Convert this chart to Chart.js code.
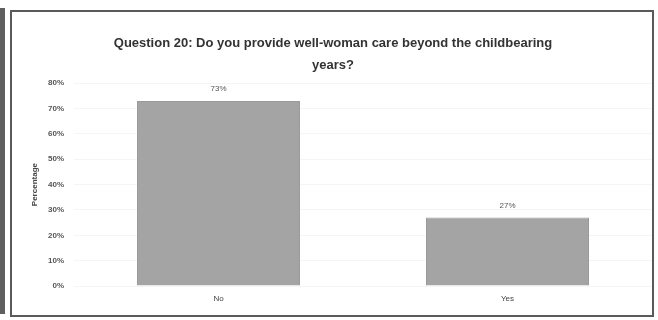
<!DOCTYPE html>
<html>
<head>
<meta charset="utf-8">
<script src="https://cdn.jsdelivr.net/npm/chart.js@4/dist/chart.umd.min.js"></script>
<style>
  html, body { margin: 0; padding: 0; background: #fff; }
  #wrap { position: relative; width: 658px; height: 320px; overflow: hidden; }
  #c { position: absolute; left: 0; top: 0; }
  #frame { position: absolute; left: 10px; top: 10px; width: 640px; height: 303px;
           border: 2px solid #5a5a5a; pointer-events: none; }
  #edge { position: absolute; left: 0; top: 8px; width: 5px; height: 306px;
          background: #5f5f5f; pointer-events: none; }
</style>
</head>
<body>
<div id="wrap">
  <canvas id="c" width="658" height="320"></canvas>
  <div id="edge"></div>
  <div id="frame"></div>
</div>
<script>
// Survey answers and their shares (percent)
const categories = ['No', 'Yes'];
const shares = [73, 27];
const yTicks = [0, 10, 20, 30, 40, 50, 60, 70, 80];
const titleLines = ['Question 20: Do you provide well-woman care beyond the childbearing', 'years?'];
const yTitle = 'Percentage';

const FONT = "'Liberation Sans', 'DejaVu Sans', sans-serif";

// value labels printed above each bar
const valueLabels = {
  id: 'valueLabels',
  afterDatasetsDraw(chart) {
    const ctx = chart.ctx;
    const meta = chart.getDatasetMeta(0);
    ctx.save();
    ctx.font = '8px ' + FONT;
    ctx.fillStyle = '#555';
    ctx.textAlign = 'center';
    ctx.textBaseline = 'bottom';
    meta.data.forEach((bar, i) => {
      ctx.fillText(shares[i] + '%', bar.x, bar.y - 8);
    });
    ctx.restore();
  }
};

new Chart(document.getElementById('c'), {
  type: 'bar',
  data: {
    labels: categories,
    datasets: [{
      data: shares,
      backgroundColor: '#a4a4a4',
      borderColor: '#9a9a9a',
      borderWidth: 1,
      barPercentage: 0.564,
      categoryPercentage: 1.0
    }]
  },
  options: {
    responsive: false,
    animation: false,
    devicePixelRatio: 1,
    layout: { padding: { left: 14, right: 6, top: 0, bottom: 0 } },
    plugins: {
      legend: { display: false },
      tooltip: { enabled: false },
      title: {
        display: true,
        text: titleLines,
        color: '#333',
        font: { family: FONT, size: 13, weight: 'bold', lineHeight: 1.7 },
        padding: { top: 32, bottom: 7 }
      }
    },
    scales: {
      x: {
        grid: { display: false, drawTicks: false },
        border: { display: false },
        ticks: { color: '#444', font: { family: FONT, size: 8 }, padding: 8 },
        afterFit(s) { s.height = 34; }
      },
      y: {
        min: 0,
        max: 80,
        afterBuildTicks(s) { s.ticks = yTicks.map(v => ({ value: v })); },
        grid: { color: 'rgba(0,0,0,0.04)', drawTicks: false },
        border: { display: false },
        ticks: {
          color: '#555',
          font: { family: FONT, size: 8, weight: 'bold' },
          padding: 10,
          callback: v => v + '%'
        },
        title: {
          display: true,
          text: yTitle,
          color: '#444',
          font: { family: FONT, size: 8, weight: 'bold' },
          padding: { top: 16, bottom: 0 }
        },
        afterFit(s) { s.width = 60; }
      }
    }
  },
  plugins: [valueLabels]
});
</script>
</body>
</html>
